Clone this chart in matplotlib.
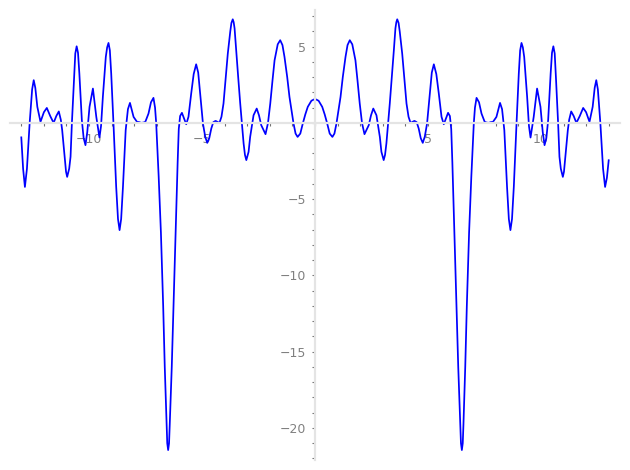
import matplotlib
matplotlib.use("Agg")
import numpy as np
from matplotlib import pyplot as plt
from matplotlib.ticker import FixedLocator

# curve, left half (x <= 0)
x_left = [
    -13.00, -12.92, -12.84, -12.75, -12.63, -12.52, -12.45, -12.38, -12.29, -12.15,
    -12.00, -11.87, -11.72, -11.57, -11.45, -11.34, -11.25, -11.19, -11.08, -11.02,
    -10.97, -10.88, -10.82, -10.76, -10.67, -10.61, -10.55, -10.49, -10.43, -10.32,
    -10.24, -10.16, -10.08, -9.98, -9.83, -9.68, -9.54, -9.47, -9.39, -9.26,
    -9.20, -9.14, -9.08, -9.02, -8.92, -8.80, -8.72, -8.65, -8.58, -8.50,
    -8.38, -8.28, -8.19, -8.03, -7.88, -7.78, -7.69, -7.60, -7.51, -7.37,
    -7.26, -7.15, -7.08, -7.03, -6.92, -6.82, -6.72, -6.65, -6.57, -6.54,
    -6.50, -6.46, -6.43, -6.34, -6.26, -6.17, -6.08, -6.03, -5.97, -5.89,
    -5.80, -5.70, -5.60, -5.48, -5.37, -5.26, -5.17, -5.11, -4.96, -4.86,
    -4.77, -4.68, -4.59, -4.50, -4.40, -4.23, -4.14, -4.05, -3.96, -3.86,
    -3.75, -3.70, -3.64, -3.60, -3.56, -3.49, -3.40, -3.31, -3.16, -3.10,
    -3.04, -2.94, -2.87, -2.72, -2.58, -2.48, -2.38, -2.19, -2.08, -1.98,
    -1.88, -1.79, -1.65, -1.54, -1.44, -1.35, -1.23, -1.13, -0.95, -0.86,
    -0.77, -0.65, -0.54, -0.43, -0.32, -0.16, 0.00,
]
y_left = [
    -0.95, -3.00, -4.20, -3.00, 0.00, 2.20, 2.80, 2.30, 1.05, 0.07,
    0.70, 0.98, 0.45, 0.00, 0.45, 0.75, 0.20, -0.48, -2.22, -3.20,
    -3.54, -3.00, -2.22, 0.00, 2.80, 4.55, 5.02, 4.60, 3.23, 0.18,
    -1.00, -1.46, -0.60, 1.05, 2.25, 0.39, -0.96, -0.20, 1.70, 4.32,
    4.95, 5.24, 4.75, 3.23, -0.04, -4.19, -6.30, -7.03, -6.30, -4.19,
    -0.48, 0.90, 1.31, 0.39, 0.07, 0.05, 0.00, 0.02, 0.07, 0.61,
    1.35, 1.64, 1.00, 0.00, -3.50, -7.20, -12.00, -16.00, -19.80, -21.00,
    -21.45, -21.00, -19.80, -16.00, -11.80, -7.20, -2.60, -0.40, 0.45, 0.66,
    0.30, -0.09, 0.40, 1.92, 3.20, 3.84, 3.30, 2.36, -0.04, -0.90,
    -1.31, -1.00, -0.37, 0.05, 0.13, 0.00, 0.40, 1.27, 2.80, 4.54,
    6.00, 6.55, 6.79, 6.60, 6.20, 4.76, 3.00, 1.27, -1.35, -2.10,
    -2.44, -1.90, -0.92, 0.50, 0.94, 0.50, -0.15, -0.74, 0.00, 1.27,
    2.80, 4.10, 5.15, 5.42, 5.10, 4.32, 3.00, 1.70, -0.04, -0.70,
    -0.92, -0.70, -0.04, 0.55, 1.05, 1.45, 1.57,
]

# right half (x > 0), read the same way
x_right = [
    0.16, 0.32, 0.43, 0.54, 0.65, 0.77, 0.86, 0.95, 1.13, 1.23,
    1.35, 1.44, 1.54, 1.65, 1.79, 1.88, 1.98, 2.08, 2.19, 2.38,
    2.48, 2.58, 2.72, 2.87, 2.94, 3.04, 3.10, 3.16, 3.31, 3.40,
    3.49, 3.56, 3.60, 3.64, 3.70, 3.75, 3.86, 3.96, 4.05, 4.14,
    4.23, 4.40, 4.50, 4.59, 4.68, 4.77, 4.86, 4.96, 5.11, 5.17,
    5.26, 5.37, 5.48, 5.60, 5.70, 5.80, 5.89, 5.97, 6.03, 6.08,
    6.17, 6.26, 6.34, 6.43, 6.46, 6.50, 6.54, 6.57, 6.65, 6.72,
    6.82, 6.92, 7.03, 7.08, 7.15, 7.26, 7.37, 7.51, 7.60, 7.69,
    7.78, 7.88, 8.03, 8.19, 8.28, 8.38, 8.50, 8.58, 8.65, 8.72,
    8.80, 8.92, 9.02, 9.08, 9.14, 9.20, 9.26, 9.39, 9.47, 9.54,
    9.68, 9.83, 9.98, 10.08, 10.16, 10.24, 10.32, 10.43, 10.49, 10.55,
    10.61, 10.67, 10.76, 10.82, 10.88, 10.97, 11.02, 11.08, 11.19, 11.25,
    11.34, 11.45, 11.57, 11.72, 11.87, 12.00, 12.15, 12.29, 12.38, 12.45,
    12.52, 12.63, 12.75, 12.84, 12.92, 13.00,
]
y_right = [
    1.45, 1.05, 0.55, -0.04, -0.70, -0.92, -0.70, -0.04, 1.70, 3.00,
    4.32, 5.10, 5.42, 5.15, 4.10, 2.80, 1.27, 0.00, -0.74, -0.15,
    0.50, 0.94, 0.50, -0.92, -1.90, -2.44, -2.10, -1.35, 1.27, 3.00,
    4.76, 6.20, 6.60, 6.79, 6.55, 6.00, 4.54, 2.80, 1.27, 0.40,
    0.00, 0.13, 0.05, -0.37, -1.00, -1.31, -0.90, -0.04, 2.36, 3.30,
    3.84, 3.20, 1.92, 0.40, -0.09, 0.30, 0.66, 0.45, -0.40, -2.60,
    -7.20, -11.80, -16.00, -19.80, -21.00, -21.45, -21.00, -19.80, -16.00, -12.00,
    -7.20, -3.50, 0.00, 1.00, 1.64, 1.35, 0.61, 0.07, 0.02, 0.00,
    0.05, 0.07, 0.39, 1.31, 0.90, -0.48, -4.19, -6.30, -7.03, -6.30,
    -4.19, -0.04, 3.23, 4.75, 5.24, 4.95, 4.32, 1.70, -0.20, -0.96,
    0.39, 2.25, 1.05, -0.60, -1.46, -1.00, 0.18, 3.23, 4.60, 5.02,
    4.55, 2.80, 0.00, -2.22, -3.00, -3.54, -3.20, -2.22, -0.48, 0.20,
    0.75, 0.45, 0.00, 0.45, 0.98, 0.70, 0.07, 1.05, 2.30, 2.80,
    2.20, 0.00, -3.00, -4.20, -3.60, -2.45,
]

x_major = [-10, -5, 5, 10]
y_major = [-20, -15, -10, -5, 5]
x_minor = list(range(-13, 14))
y_minor = list(range(-22, 8))

x = np.array(x_left + x_right)
y = np.array(y_left + y_right)

fig = plt.figure(figsize=(6.3, 4.7), dpi=100)
ax = fig.add_axes([10 / 630, 10 / 470, 610 / 630, 450 / 470])

ax.plot(x, y, color="#0000ff", linewidth=1.25)

ax.set_xlim(-13.5, 13.5)
ax.set_ylim(-22.1, 7.4)

for side in ["top", "right"]:
    ax.spines[side].set_visible(False)
for side in ["left", "bottom"]:
    ax.spines[side].set_position(("data", 0))
    ax.spines[side].set_color("#e4e4e4")
    ax.spines[side].set_linewidth(1.6)

ax.xaxis.set_major_locator(FixedLocator(x_major))
ax.yaxis.set_major_locator(FixedLocator(y_major))
ax.xaxis.set_minor_locator(FixedLocator(x_minor))
ax.yaxis.set_minor_locator(FixedLocator(y_minor))
ax.set_xticklabels(["\u2212" + str(abs(v)) if v < 0 else str(v) for v in x_major])
ax.set_yticklabels(["\u2212" + str(abs(v)) if v < 0 else str(v) for v in y_major])

ax.tick_params(which="both", direction="out", length=2.5, width=0.8,
               color="#707070", labelcolor="#808080", labelsize=9)
ax.tick_params(axis="x", which="major", pad=5)
ax.tick_params(axis="y", which="major", pad=4)

fig.savefig("out.png", dpi=100)
